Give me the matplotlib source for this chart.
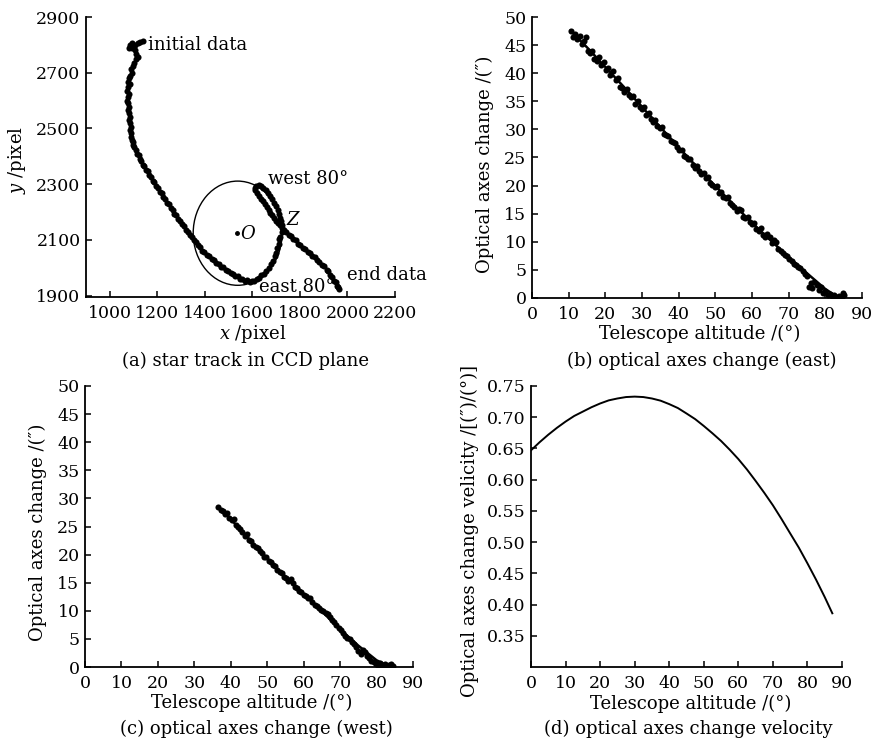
import matplotlib
matplotlib.use("Agg")
import matplotlib.pyplot as plt
from matplotlib.patches import Circle

plt.rcParams['font.family'] = ['DejaVu Serif']
plt.rcParams['mathtext.fontset'] = 'dejavuserif'
FS = 13      # labels / captions / annotations
TFS = 12.5   # tick labels

# ---------------- data ----------------
# (a) star track in CCD plane
track_x = [1140, 1128, 1118, 1106, 1095, 1086, 1082, 1094, 1105, 1112, 1118, 1110, 1102, 1096, 1090,
           1094, 1086, 1080, 1076, 1084, 1078, 1074, 1080, 1076, 1072, 1078, 1083, 1076, 1080, 1085,
           1079, 1084, 1089, 1085, 1091, 1088, 1094, 1099, 1096, 1104, 1110, 1116, 1122, 1126, 1133,
           1140, 1146, 1152, 1160, 1166, 1174, 1180, 1188, 1196, 1203, 1210, 1218, 1226, 1234, 1241,
           1248, 1256, 1264, 1272, 1280, 1288, 1296, 1304, 1312, 1320, 1328, 1337, 1345, 1354, 1362,
           1371, 1380, 1389, 1398, 1408, 1418, 1428, 1438, 1448, 1458, 1468, 1478, 1488, 1498, 1508,
           1518, 1528, 1538, 1548, 1558, 1568, 1578, 1588, 1598, 1608, 1618, 1628, 1638, 1648, 1658,
           1668, 1678, 1686, 1694, 1700, 1705, 1710, 1714, 1718, 1723, 1728,
           1726, 1722, 1717, 1712, 1706, 1700, 1692, 1684, 1675, 1666, 1656, 1646, 1636, 1626, 1616,
           1610, 1612,
           1620, 1628, 1636, 1644, 1652, 1660, 1668, 1676, 1684, 1692, 1700, 1708, 1716, 1724, 1732,
           1742, 1752, 1762, 1772, 1782, 1792, 1802, 1812, 1822, 1832, 1842, 1852, 1862, 1872, 1882,
           1892, 1902, 1912, 1920, 1928, 1936, 1944, 1950, 1956, 1962, 1966]
track_y = [2815, 2810, 2806, 2800, 2806, 2798, 2788, 2790, 2780, 2768, 2757, 2748, 2736, 2724, 2712,
           2700, 2690, 2680, 2668, 2660, 2648, 2636, 2624, 2612, 2600, 2590, 2578, 2566, 2554, 2542,
           2530, 2518, 2506, 2494, 2482, 2470, 2460, 2450, 2440, 2432, 2424, 2410, 2404, 2390, 2384,
           2370, 2364, 2350, 2346, 2332, 2326, 2312, 2306, 2292, 2286, 2272, 2268, 2254, 2248, 2234,
           2228, 2214, 2208, 2194, 2188, 2174, 2168, 2156, 2150, 2136, 2130, 2117, 2112, 2098, 2093,
           2080, 2074, 2061, 2057, 2045, 2042, 2030, 2027, 2016, 2014, 2004, 2002, 1992, 1990, 1981,
           1979, 1970, 1969, 1961, 1960, 1954, 1956, 1948, 1951, 1951, 1960, 1962, 1973, 1977, 1989,
           1998, 2014, 2024, 2042, 2053, 2072, 2084, 2102, 2112, 2129, 2136,
           2152, 2166, 2180, 2194, 2208, 2221, 2234, 2246, 2258, 2268, 2278, 2286, 2292, 2296, 2294,
           2288, 2278,
           2268, 2258, 2248, 2238, 2228, 2218, 2208, 2198, 2188, 2178, 2168, 2160, 2152, 2144, 2136,
           2130, 2118, 2114, 2102, 2098, 2086, 2082, 2071, 2068, 2056, 2052, 2041, 2038, 2027, 2022,
           2010, 2006, 1993, 1987, 1973, 1967, 1954, 1948, 1935, 1930, 1922]
circle_center = (1538, 2124)
circle_radius = 187
point_O = (1537, 2124)

# (b) optical axes change (east)
east_alt = [10.6, 11.2, 11.8, 12.4, 13.0, 13.6, 14.2, 14.6, 15.2, 15.8, 16.4, 17.0, 17.6, 18.2, 18.8,
            19.6, 20.2, 20.8, 21.4, 22.2, 22.8, 23.5, 24.0, 24.6, 25.2, 25.8, 26.4, 27.0, 27.6, 28.2,
            28.8, 29.4, 30.0, 30.6, 31.2, 31.8, 32.4, 33.0, 33.6, 34.2, 34.8, 35.4, 36.0, 36.6, 37.2,
            37.8, 38.4, 39.0, 39.6, 40.2, 40.8, 41.4, 42.0, 42.6, 43.2, 43.8, 44.4, 45.0, 45.6, 46.2,
            46.8, 47.4, 48.0, 48.6, 49.2, 49.8, 50.4, 51.0, 51.6, 52.2, 52.8, 53.4, 54.0, 54.6, 55.2,
            55.8, 56.4, 57.0, 57.6, 58.2, 58.8, 59.4, 60.0, 60.6, 61.2, 61.8, 62.4, 63.0, 63.6, 64.2,
            64.8, 65.4, 66.0, 66.6, 67.2, 67.8, 68.4, 69.0, 69.6, 70.2, 70.8, 71.4, 72.0, 72.6, 73.2,
            73.8, 74.4, 75.0, 75.6, 76.0, 76.4, 77.0, 77.6, 78.2, 78.8, 79.4, 80.0, 80.6, 81.2, 81.8,
            82.4, 83.0, 83.6, 84.2, 84.6, 84.8, 85.0]
east_change = [47.5, 46.4, 46.9, 46.0, 46.6, 45.2, 45.8, 46.5, 44.0, 43.6, 43.9, 42.6, 42.1, 42.9, 41.4,
               42.0, 40.6, 40.9, 39.6, 40.4, 38.8, 39.2, 37.6, 37.3, 36.6, 37.1, 36.2, 35.7, 35.9, 34.6,
               35.1, 34.0, 33.7, 33.9, 32.5, 33.0, 31.9, 31.4, 31.7, 30.6, 30.2, 30.5, 29.2, 29.0, 28.9,
               28.0, 27.7, 27.6, 26.8, 26.4, 26.3, 25.3, 25.0, 24.7, 24.8, 23.6, 23.2, 23.4, 22.6, 22.0,
               22.3, 21.3, 21.5, 20.5, 20.1, 19.7, 19.9, 18.6, 18.9, 18.0, 17.8, 17.9, 16.9, 16.6, 16.2,
               15.4, 15.9, 15.7, 14.5, 14.3, 14.4, 13.5, 13.1, 13.3, 12.3, 11.9, 12.4, 11.2, 10.8, 11.3,
               10.9, 9.8, 10.4, 9.9, 8.8, 8.3, 8.0, 7.6, 7.4, 6.9, 6.5, 6.1, 5.8, 5.6, 5.3,
               4.8, 4.3, 4.0, 2.0, 2.6, 1.8, 2.9, 2.4, 1.4, 1.9, 0.9, 1.2, 0.6, 0.8, 0.3,
               0.5, 0.1, 0.3, 0.2, 0.4, 0.9, 0.6]
east_fit_alt = [10.5, 15, 20, 25, 30, 35, 40, 45, 50, 55, 60, 65, 70, 75, 80, 83.5]
east_fit_change = [47.6, 44.6, 41.1, 37.6, 34.0, 30.4, 26.8, 23.3, 19.9, 16.6, 13.4, 10.3, 7.3, 4.4, 1.6, 0.1]

# (c) optical axes change (west)
west_alt = [36.6, 37.2, 37.8, 38.4, 39.0, 39.6, 40.2, 40.8, 41.4, 42.0, 42.6, 43.2, 43.8, 44.4, 45.0,
            45.6, 46.2, 46.8, 47.4, 48.0, 48.6, 49.2, 49.8, 50.4, 51.0, 51.6, 52.2, 52.8, 53.4, 54.0,
            54.6, 55.2, 55.8, 56.4, 57.0, 57.6, 58.2, 58.8, 59.4, 60.0, 60.6, 61.2, 61.8, 62.4, 63.0,
            63.6, 64.2, 64.8, 65.4, 66.0, 66.6, 67.2, 67.8, 68.4, 69.0, 69.6, 70.2, 70.8, 71.4, 72.0,
            72.6, 73.2, 73.8, 74.4, 75.0, 75.6, 76.2, 76.8, 77.4, 78.0, 78.6, 79.2, 79.8, 80.4, 81.0,
            81.6, 82.2, 82.8, 83.4, 84.0, 84.5]
west_change = [28.5, 28.0, 27.8, 27.2, 27.4, 26.6, 26.1, 26.3, 25.2, 24.9, 24.6, 24.0, 23.3, 23.6, 22.6,
               22.5, 21.7, 21.4, 21.2, 20.6, 20.3, 19.6, 19.5, 18.9, 18.7, 18.1, 17.9, 17.3, 16.9, 16.7,
               16.0, 15.9, 15.3, 15.6, 14.9, 14.3, 14.1, 13.5, 13.4, 12.8, 12.7, 12.2, 12.3, 11.5, 11.1,
               10.9, 10.5, 10.1, 10.0, 9.6, 9.5, 8.9, 8.4, 8.0, 7.5, 7.0, 6.5, 6.0, 5.6, 5.2,
               4.9, 4.5, 4.1, 3.6, 2.9, 2.4, 3.0, 2.6, 2.0, 1.6, 1.1, 0.9, 0.6, 0.4, 0.8,
               0.2, 0.5, 0.1, 0.3, 0.6, 0.2]
west_fit_alt = [36.5, 40, 45, 50, 55, 60, 65, 70, 75, 80, 83.5]
west_fit_change = [28.4, 26.3, 22.8, 19.3, 16.0, 13.0, 9.9, 6.7, 3.8, 1.2, 0.1]

# (d) optical axes change velocity
vel_alt = [0, 2.5, 5, 7.5, 10, 12.5, 15, 17.5, 20, 22.5, 25, 27.5, 30, 32.5, 35, 37.5, 40, 42.5, 45,
           47.5, 50, 52.5, 55, 57.5, 60, 62.5, 65, 67.5, 70, 72.5, 75, 77.5, 80, 82.5, 85, 87.2]
vel_val = [0.647, 0.660, 0.672, 0.683, 0.693, 0.702, 0.709, 0.716, 0.722, 0.727, 0.730, 0.7323, 0.733,
           0.7323, 0.730, 0.7265, 0.721, 0.7147, 0.706, 0.697, 0.686, 0.6743, 0.662, 0.648, 0.633,
           0.6163, 0.598, 0.579, 0.559, 0.537, 0.514, 0.4912, 0.466, 0.4398, 0.412, 0.386]

alt_ticks = [0, 10, 20, 30, 40, 50, 60, 70, 80, 90]
change_ticks = [0, 5, 10, 15, 20, 25, 30, 35, 40, 45, 50]
vel_ticks = [0.35, 0.40, 0.45, 0.50, 0.55, 0.60, 0.65, 0.70, 0.75]
ax_ticks_x = [1000, 1200, 1400, 1600, 1800, 2000, 2200]
ax_ticks_y = [1900, 2100, 2300, 2500, 2700, 2900]

# ---------------- figure ----------------
W, H = 877, 739
fig = plt.figure(figsize=(W / 100, H / 100), dpi=100)


def add_axes(l, r, t, b):
    return fig.add_axes([l / W, 1 - b / H, (r - l) / W, (b - t) / H])


def style(ax):
    for s in ['top', 'right']:
        ax.spines[s].set_visible(False)
    for s in ['left', 'bottom']:
        ax.spines[s].set_linewidth(1.3)
    ax.tick_params(direction='in', length=4, width=1.1, labelsize=TFS)
    ax.tick_params(axis='x', pad=6)
    ax.tick_params(axis='y', pad=4)


def ftext(x, y, s, **kw):
    fig.text(x / W, 1 - y / H, s, fontsize=FS, ha='center', va='center', **kw)


axa = add_axes(86, 395, 17, 297)
axb = add_axes(532, 862, 17, 298)
axc = add_axes(85, 413, 386, 667)
axd = add_axes(531, 842, 386, 667)
for ax in (axa, axb, axc, axd):
    style(ax)

MS = 4.4

# (a)
axa.plot(track_x, track_y, 'o', color='black', ms=MS, mec='none')
axa.add_patch(Circle(circle_center, circle_radius, fill=False, lw=1.0, color='black'))
axa.plot([point_O[0]], [point_O[1]], 'o', color='black', ms=2.5)
axa.text(1548, 2122, '$O$', fontsize=FS, va='center', ha='left')
axa.text(1742, 2172, '$Z$', fontsize=FS, va='center', ha='left')
axa.text(1160, 2798, 'initial data', fontsize=FS, va='center', ha='left')
axa.text(1666, 2317, 'west 80°', fontsize=FS, va='center', ha='left')
axa.text(1628, 1930, 'east 80°', fontsize=FS, va='center', ha='left')
axa.text(1996, 1973, 'end data', fontsize=FS, va='center', ha='left')
axa.set_xlim(900, 2200)
axa.set_ylim(1895, 2900)
axa.set_xticks(ax_ticks_x)
axa.set_yticks(ax_ticks_y)

# (b)
axb.plot(east_alt, east_change, 'o', color='black', ms=MS, mec='none')
axb.plot(east_fit_alt, east_fit_change, '-', color='black', lw=1.8)
axb.set_xlim(0, 90)
axb.set_ylim(0, 50)
axb.set_xticks(alt_ticks)
axb.set_yticks(change_ticks)

# (c)
axc.plot(west_alt, west_change, 'o', color='black', ms=MS, mec='none')
axc.plot(west_fit_alt, west_fit_change, '-', color='black', lw=1.8)
axc.set_xlim(0, 90)
axc.set_ylim(0, 50)
axc.set_xticks(alt_ticks)
axc.set_yticks(change_ticks)

# (d)
axd.plot(vel_alt, vel_val, '-', color='black', lw=1.4)
axd.set_xlim(0, 90)
axd.set_ylim(0.30, 0.75)
axd.set_xticks(alt_ticks)
axd.set_yticks(vel_ticks)
axd.set_yticklabels([f'{v:.2f}' for v in vel_ticks])

# axis labels and captions
ftext(253, 334, '$x$ /pixel')
ftext(17, 160, '$y$ /pixel', rotation=90)
ftext(246, 361, '(a) star track in CCD plane')

ftext(700, 334, 'Telescope altitude /(°)')
ftext(485, 164, 'Optical axes change /(″)', rotation=90)
ftext(702, 361, '(b) optical axes change (east)')

ftext(252, 703, 'Telescope altitude /(°)')
ftext(38, 532, 'Optical axes change /(″)', rotation=90)
ftext(256, 729, '(c) optical axes change (west)')

ftext(691, 704, 'Telescope altitude /(°)')
ftext(470, 531, 'Optical axes change velicity /[(″)/(°)]', rotation=90)
ftext(688, 729, '(d) optical axes change velocity')

fig.savefig('out.png', dpi=100, facecolor='white')
